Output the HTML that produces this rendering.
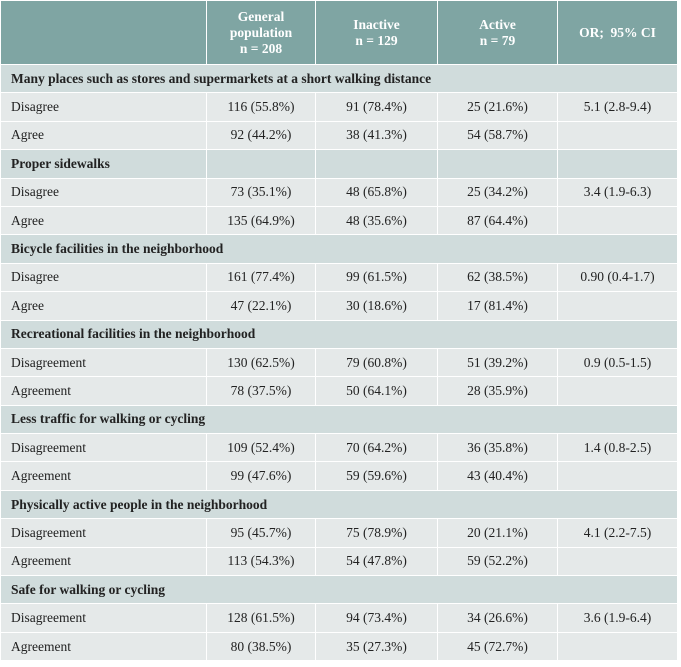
<!DOCTYPE html>
<html><head><meta charset="utf-8"><style>
body{margin:0;background:#fff;width:681px;height:667px;overflow:hidden}
table{position:absolute;left:0;top:0;border-collapse:collapse;table-layout:fixed;width:677px;font-family:"Liberation Serif",serif;font-size:13.5px;color:#222}
td,th{border:1.5px solid #fff;padding:0 8px 0 10px;height:27.4px}
th{background:#7fa5a3;color:#fff;font-weight:bold;height:63px;font-size:13.5px;line-height:16px;padding:0 8px}
tr.sec td{background:#d0dcdc;font-weight:bold}
tr.row td{background:#e5e9e9}
td.c{text-align:center;padding:0 8px}
</style></head><body>
<table>
<colgroup><col style="width:206px"><col style="width:109px"><col style="width:122px"><col style="width:120px"><col style="width:120px"></colgroup>
<tr><th></th><th>General<br>population<br>n = 208</th><th>Inactive<br>n = 129</th><th>Active<br>n = 79</th><th>OR;&nbsp; 95% CI</th></tr>
<tr class="sec"><td colspan="5">Many places such as stores and supermarkets at a short walking distance</td></tr>
<tr class="row"><td>Disagree</td><td class="c">116 (55.8%)</td><td class="c">91 (78.4%)</td><td class="c">25 (21.6%)</td><td class="c">5.1 (2.8-9.4)</td></tr>
<tr class="row"><td>Agree</td><td class="c">92 (44.2%)</td><td class="c">38 (41.3%)</td><td class="c">54 (58.7%)</td><td></td></tr>
<tr class="sec"><td>Proper sidewalks</td><td></td><td></td><td></td><td></td></tr>
<tr class="row"><td>Disagree</td><td class="c">73 (35.1%)</td><td class="c">48 (65.8%)</td><td class="c">25 (34.2%)</td><td class="c">3.4 (1.9-6.3)</td></tr>
<tr class="row"><td>Agree</td><td class="c">135 (64.9%)</td><td class="c">48 (35.6%)</td><td class="c">87 (64.4%)</td><td></td></tr>
<tr class="sec"><td colspan="5">Bicycle facilities in the neighborhood</td></tr>
<tr class="row"><td>Disagree</td><td class="c">161 (77.4%)</td><td class="c">99 (61.5%)</td><td class="c">62 (38.5%)</td><td class="c">0.90 (0.4-1.7)</td></tr>
<tr class="row"><td>Agree</td><td class="c">47 (22.1%)</td><td class="c">30 (18.6%)</td><td class="c">17 (81.4%)</td><td></td></tr>
<tr class="sec"><td colspan="5">Recreational facilities in the neighborhood</td></tr>
<tr class="row"><td>Disagreement</td><td class="c">130 (62.5%)</td><td class="c">79 (60.8%)</td><td class="c">51 (39.2%)</td><td class="c">0.9 (0.5-1.5)</td></tr>
<tr class="row"><td>Agreement</td><td class="c">78 (37.5%)</td><td class="c">50 (64.1%)</td><td class="c">28 (35.9%)</td><td></td></tr>
<tr class="sec"><td colspan="5">Less traffic for walking or cycling</td></tr>
<tr class="row"><td>Disagreement</td><td class="c">109 (52.4%)</td><td class="c">70 (64.2%)</td><td class="c">36 (35.8%)</td><td class="c">1.4 (0.8-2.5)</td></tr>
<tr class="row"><td>Agreement</td><td class="c">99 (47.6%)</td><td class="c">59 (59.6%)</td><td class="c">43 (40.4%)</td><td></td></tr>
<tr class="sec"><td colspan="5">Physically active people in the neighborhood</td></tr>
<tr class="row"><td>Disagreement</td><td class="c">95 (45.7%)</td><td class="c">75 (78.9%)</td><td class="c">20 (21.1%)</td><td class="c">4.1 (2.2-7.5)</td></tr>
<tr class="row"><td>Agreement</td><td class="c">113 (54.3%)</td><td class="c">54 (47.8%)</td><td class="c">59 (52.2%)</td><td></td></tr>
<tr class="sec"><td colspan="5">Safe for walking or cycling</td></tr>
<tr class="row"><td>Disagreement</td><td class="c">128 (61.5%)</td><td class="c">94 (73.4%)</td><td class="c">34 (26.6%)</td><td class="c">3.6 (1.9-6.4)</td></tr>
<tr class="row"><td>Agreement</td><td class="c">80 (38.5%)</td><td class="c">35 (27.3%)</td><td class="c">45 (72.7%)</td><td></td></tr>
</table>
</body></html>
